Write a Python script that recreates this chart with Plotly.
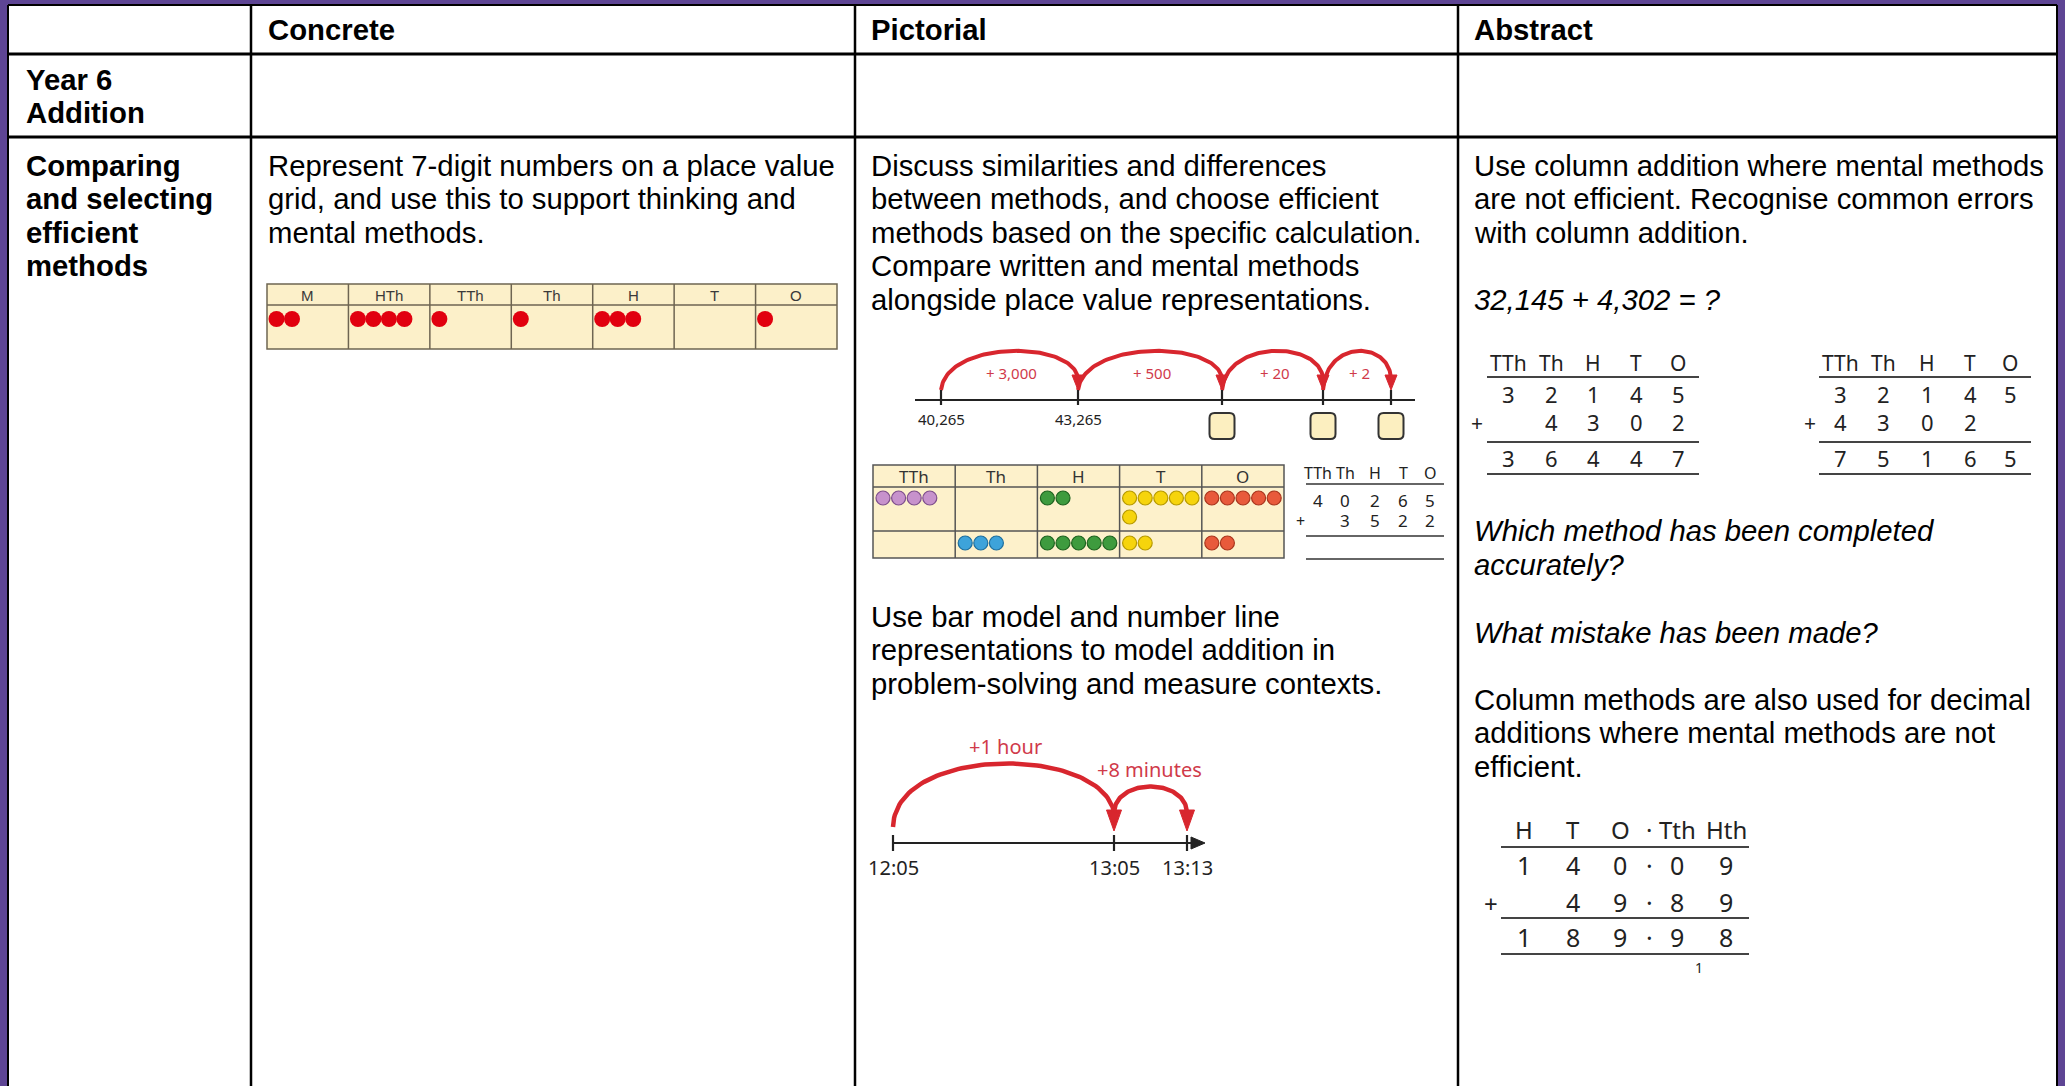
import plotly.graph_objects as go
import numpy as np

# ======================= DATA =======================
col_headers = ["Concrete", "Pictorial", "Abstract"]
year_label = ["Year 6", "Addition"]
topic_label = ["Comparing", "and selecting", "efficient", "methods"]

concrete_text = ["Represent 7-digit numbers on a place value",
                 "grid, and use this to support thinking and",
                 "mental methods."]
pictorial_text_a = ["Discuss similarities and differences",
                    "between methods, and choose efficient",
                    "methods based on the specific calculation.",
                    "Compare written and mental methods",
                    "alongside place value representations."]
pictorial_text_b = ["Use bar model and number line",
                    "representations to model addition in",
                    "problem-solving and measure contexts."]
abstract_text_a = ["Use column addition where mental methods",
                   "are not efficient. Recognise common errors",
                   "with column addition."]
abstract_equation = ["32,145 + 4,302 = ?"]
abstract_question_a = ["Which method has been completed", "accurately?"]
abstract_question_b = ["What mistake has been made?"]
abstract_text_b = ["Column methods are also used for decimal",
                   "additions where mental methods are not",
                   "efficient."]

pv7_places = ["M", "HTh", "TTh", "Th", "H", "T", "O"]
pv7_counters = [2, 4, 1, 1, 3, 0, 1]

jump_labels = ["+ 3,000", "+ 500", "+ 20", "+ 2"]
jump_marks = ["40,265", "43,265", "", "", ""]
jump_unknown = [False, False, True, True, True]

pv5_places = ["TTh", "Th", "H", "T", "O"]
pv5_first = [4, 0, 2, 6, 5]
pv5_second = [0, 3, 5, 2, 2]

sum_places = ["TTh", "Th", "H", "T", "O"]
sum_top = ["4", "0", "2", "6", "5"]
sum_add = ["", "3", "5", "2", "2"]

left_sum = [["3", "2", "1", "4", "5"], ["", "4", "3", "0", "2"], ["3", "6", "4", "4", "7"]]
right_sum = [["3", "2", "1", "4", "5"], ["4", "3", "0", "2", ""], ["7", "5", "1", "6", "5"]]

dec_places = ["H", "T", "O", "·", "Tth", "Hth"]
dec_sum = [["1", "4", "0", "·", "0", "9"], ["", "4", "9", "·", "8", "9"], ["1", "8", "9", "·", "9", "8"]]
dec_carry = ["", "", "", "", "1", ""]

time_marks = ["12:05", "13:05", "13:13"]
time_jumps = ["+1 hour", "+8 minutes"]

# ======================= STYLE / LAYOUT =======================
W, H = 2065, 1086
PURPLE = "#5E4594"
RED = "#D8262E"
RED_TXT = "#D03A4A"
CREAM = "#FCF0C9"
ARIAL = "Liberation Sans, Arial, sans-serif"
ROUND = "Noto Sans, Lato, sans-serif"
FS = 29.3
LH = 33.5

pv5_fill = ["#C792CC", "#3DA3DA", "#3E9B3E", "#F6D40C", "#E85A3B"]
pv5_edge = ["#7E4F8C", "#1E6F9E", "#1F6420", "#B79A00", "#A9361E"]

fig = go.Figure()
shapes, ann = [], []


def text(x, y, s, size=FS, color="black", family=ARIAL, anchor="left"):
    ann.append(dict(x=x, y=y, xref="x", yref="y", text=s, showarrow=False,
                    xanchor=anchor, yanchor="middle",
                    font=dict(size=size, color=color, family=family)))


def line(x0, y0, x1, y1, w=2.5, color="black"):
    shapes.append(dict(type="line", x0=x0, y0=y0, x1=x1, y1=y1, xref="x", yref="y",
                       line=dict(color=color, width=w)))


def rect(x0, y0, x1, y1, fill, edge=None, w=0, layer="below"):
    shapes.append(dict(type="rect", x0=x0, y0=y0, x1=x1, y1=y1, xref="x", yref="y",
                       fillcolor=fill, layer=layer,
                       line=dict(color=edge or fill, width=w)))


def lines_block(x, y0, rows, **kw):
    for i, s in enumerate(rows):
        text(x, y0 + i * LH, s, **kw)


def bezier(p0, p1, p2, p3, n=80):
    t = np.linspace(0, 1, n)[:, None]
    pts = ((1 - t) ** 3 * np.array(p0) + 3 * (1 - t) ** 2 * t * np.array(p1)
           + 3 * (1 - t) * t ** 2 * np.array(p2) + t ** 3 * np.array(p3))
    return pts[:, 0], pts[:, 1]


def arc(xs, ys, width=4):
    fig.add_trace(go.Scatter(x=xs, y=ys, mode="lines", line=dict(color=RED, width=width),
                             hoverinfo="skip", showlegend=False))


def tri(pts, color):
    xs = [p[0] for p in pts] + [pts[0][0]]
    ys = [p[1] for p in pts] + [pts[0][1]]
    fig.add_trace(go.Scatter(x=xs, y=ys, mode="lines", fill="toself", fillcolor=color,
                             line=dict(color=color, width=1), hoverinfo="skip", showlegend=False))


# ---------- table frame ----------
TL, TR, TT = 8, 2057, 5
COLS = [251, 855, 1458]
ROWS = [54, 137]
TX = [24, 266, 869, 1472]

rect(TL, TT, TR, H + 10, "white")
line(TL, TT, TR, TT, 2)
line(TL, TT, TL, H + 10, 2)
line(TR, TT, TR, H + 10, 2)
for cx in COLS:
    line(cx, TT, cx, H + 10, 2.5)
for ry in ROWS:
    line(TL, ry, TR, ry, 3)

# headers
for x, s in zip(TX[1:], col_headers):
    text(x, 29, f"<b>{s}</b>")
lines_block(TX[0], 79, [f"<b>{s}</b>" for s in year_label])
lines_block(TX[0], 165, [f"<b>{s}</b>" for s in topic_label])

# body text
lines_block(TX[1], 165, concrete_text)
lines_block(TX[2], 165, pictorial_text_a)
lines_block(TX[2], 616, pictorial_text_b)
lines_block(TX[3], 165, abstract_text_a)
lines_block(TX[3], 299, [f"<i>{s}</i>" for s in abstract_equation])
lines_block(TX[3], 530.5, [f"<i>{s}</i>" for s in abstract_question_a])
lines_block(TX[3], 632, [f"<i>{s}</i>" for s in abstract_question_b])
lines_block(TX[3], 699, abstract_text_b)

# ---------- concrete: 7-column place value grid ----------
g_x0, g_x1, g_y0, g_yh, g_y1 = 267, 837, 284, 305, 349
cw = (g_x1 - g_x0) / len(pv7_places)
rect(g_x0, g_y0, g_x1, g_y1, CREAM, "#6E6552", 1.5)
line(g_x0, g_yh, g_x1, g_yh, 1.5, "#6E6552")
dx, dy = [], []
for i, (p, n) in enumerate(zip(pv7_places, pv7_counters)):
    left = g_x0 + i * cw
    if i:
        line(left, g_y0, left, g_y1, 1.5, "#6E6552")
    text(left + cw / 2, 295, p, size=15, color="#3a3a3a", anchor="center")
    for k in range(n):
        dx.append(left + 9.5 + k * 15.5)
        dy.append(319)
fig.add_trace(go.Scatter(x=dx, y=dy, mode="markers", hoverinfo="skip", showlegend=False,
                         marker=dict(size=16, color="#E1000F", line=dict(width=0))))

# ---------- pictorial: number line with jumps ----------
NL_Y = 400
tick_x = [941, 1078, 1222, 1323, 1391]
line(915, NL_Y, 1415, NL_Y, 2.2, "#222")
for i, x in enumerate(tick_x):
    line(x, 390, x, 405, 2.2, "#222")
    if jump_marks[i]:
        text(x, 419, jump_marks[i], size=15, color="#222", family=ROUND, anchor="center")
    if jump_unknown[i]:
        bx0, bx1, by0, by1, r = x - 12.5, x + 12.5, 413, 439, 5
        path = (f"M {bx0+r},{by0} L {bx1-r},{by0} Q {bx1},{by0} {bx1},{by0+r} "
                f"L {bx1},{by1-r} Q {bx1},{by1} {bx1-r},{by1} L {bx0+r},{by1} "
                f"Q {bx0},{by1} {bx0},{by1-r} L {bx0},{by0+r} Q {bx0},{by0} {bx0+r},{by0} Z")
        shapes.append(dict(type="path", path=path, xref="x", yref="y", fillcolor="#FCEFC0",
                           line=dict(color="#333", width=2)))
for i, lab in enumerate(jump_labels):
    x0, x1 = tick_x[i], tick_x[i + 1]
    w = x1 - x0
    xs, ys = bezier((x0, 390), (x0 + 0.04 * w, 340), (x1 - 0.04 * w, 340), (x1, 378))
    arc(xs, ys, 4)
    tri([(x1, 390), (x1 - 6, 375), (x1 + 6, 375)], RED)
    text((x0 + x1) / 2 + 2, 373, lab, size=15, color=RED_TXT, family=ROUND, anchor="center")

# ---------- pictorial: 5-column place value grid with counters ----------
p_x0, p_x1, p_y0, p_yh, p_ym, p_y1 = 873, 1284, 465, 487, 531, 558
pw = (p_x1 - p_x0) / len(pv5_places)
rect(p_x0, p_y0, p_x1, p_y1, "#FDF1CB", "#555", 1.5)
line(p_x0, p_yh, p_x1, p_yh, 1.5, "#555")
line(p_x0, p_ym, p_x1, p_ym, 1.5, "#555")
for i, p in enumerate(pv5_places):
    left = p_x0 + i * pw
    if i:
        line(left, p_y0, left, p_y1, 1.5, "#555")
    text(left + pw / 2, 476, p, size=17, color="#333", family=ROUND, anchor="center")
    cx, cy = [], []
    for k in range(pv5_first[i]):
        cx.append(left + 10 + (k % 5) * 15.6)
        cy.append(498 + (k // 5) * 19)
    for k in range(pv5_second[i]):
        cx.append(left + 10 + (k % 5) * 15.6)
        cy.append(543)
    if cx:
        fig.add_trace(go.Scatter(x=cx, y=cy, mode="markers", hoverinfo="skip", showlegend=False,
                                 marker=dict(size=14, color=pv5_fill[i],
                                             line=dict(width=1.2, color=pv5_edge[i]))))

# ---------- pictorial: small column addition ----------
sc = [1318, 1345, 1375, 1403, 1430]
for x, p in zip(sc, sum_places):
    text(x, 473, p, size=16, color="#222", family=ROUND, anchor="center")
line(1306, 484, 1444, 484, 1.5, "#333")
for x, d in zip(sc, sum_top):
    text(x, 500, d, size=17, color="#222", family=ROUND, anchor="center")
text(1300, 521, "+", size=16, color="#222", family=ROUND, anchor="center")
for x, d in zip(sc, sum_add):
    if d:
        text(x, 520, d, size=17, color="#222", family=ROUND, anchor="center")
line(1306, 536, 1444, 536, 1.5, "#333")
line(1306, 559, 1444, 559, 1.5, "#333")

# ---------- pictorial: time number line ----------
TL_Y = 843
t_ticks = [893, 1114, 1187]
line(893, TL_Y, 1193, TL_Y, 2.2, "#222")
tri([(1205, TL_Y), (1191, TL_Y - 6), (1191, TL_Y + 6)], "#222")
for x, s in zip(t_ticks, time_marks):
    line(x, 835, x, 851, 2.2, "#222")
    text(x, 867, s, size=20, color="#222", family=ROUND, anchor="center")
xs, ys = bezier((t_ticks[0], 827), (t_ticks[0] + 2, 745), (t_ticks[1] - 14, 745), (t_ticks[1], 812))
arc(xs, ys, 4.5)
tri([(t_ticks[1], 831), (t_ticks[1] - 7.5, 810), (t_ticks[1] + 7.5, 810)], RED)
xs, ys = bezier((t_ticks[1], 812), (t_ticks[1] + 2, 778), (t_ticks[2] - 2, 778), (t_ticks[2], 812))
arc(xs, ys, 4.5)
tri([(t_ticks[2], 831), (t_ticks[2] - 7.5, 810), (t_ticks[2] + 7.5, 810)], RED)
text(1005, 746, time_jumps[0], size=20, color=RED_TXT, family=ROUND, anchor="center")
text(1149, 769, time_jumps[1], size=20, color=RED_TXT, family=ROUND, anchor="center")

# ---------- abstract: two column additions ----------
def column_sum(cols, rows, plus_x, lx0, lx1, places):
    for x, p in zip(cols, places):
        text(x, 363, p, size=21, color="#222", family=ROUND, anchor="center")
    for ry, row in zip([394, 422, 458], rows):
        for x, d in zip(cols, row):
            if d:
                text(x, ry, d, size=22, color="#222", family=ROUND, anchor="center")
    text(plus_x, 423, "+", size=21, color="#222", family=ROUND, anchor="center")
    for ly in [377, 442, 474]:
        line(lx0, ly, lx1, ly, 2, "#444")


column_sum([1508, 1551, 1593, 1636, 1678], left_sum, 1477, 1487, 1699, sum_places)
column_sum([1840, 1883, 1927, 1970, 2010], right_sum, 1810, 1819, 2031, sum_places)

# ---------- abstract: decimal column addition ----------
dcols = [1524, 1573, 1620, 1649, 1677, 1726]
for x, p in zip(dcols, dec_places):
    text(x, 829, p, size=24, color="#222", family=ROUND, anchor="center")
for ry, row in zip([865, 902, 937], dec_sum):
    for x, d in zip(dcols, row):
        if d:
            text(x, ry, d, size=25, color="#222", family=ROUND, anchor="center")
text(1491, 903, "+", size=24, color="#222", family=ROUND, anchor="center")
for ly in [847, 918, 954]:
    line(1501, ly, 1749, ly, 2, "#444")
for x, c in zip(dcols, dec_carry):
    if c:
        text(x + 22, 967, c, size=14, color="#222", family=ROUND, anchor="center")

fig.update_layout(
    width=W, height=H, margin=dict(l=0, r=0, t=0, b=0),
    paper_bgcolor=PURPLE, plot_bgcolor=PURPLE,
    xaxis=dict(range=[0, W], visible=False, fixedrange=True),
    yaxis=dict(range=[H, 0], visible=False, fixedrange=True),
    shapes=shapes, annotations=ann, showlegend=False, hovermode=False,
)
fig.write_html("out.html", config={"displayModeBar": False},
               post_script="document.body.style.margin='0';document.body.style.overflow='hidden';")
